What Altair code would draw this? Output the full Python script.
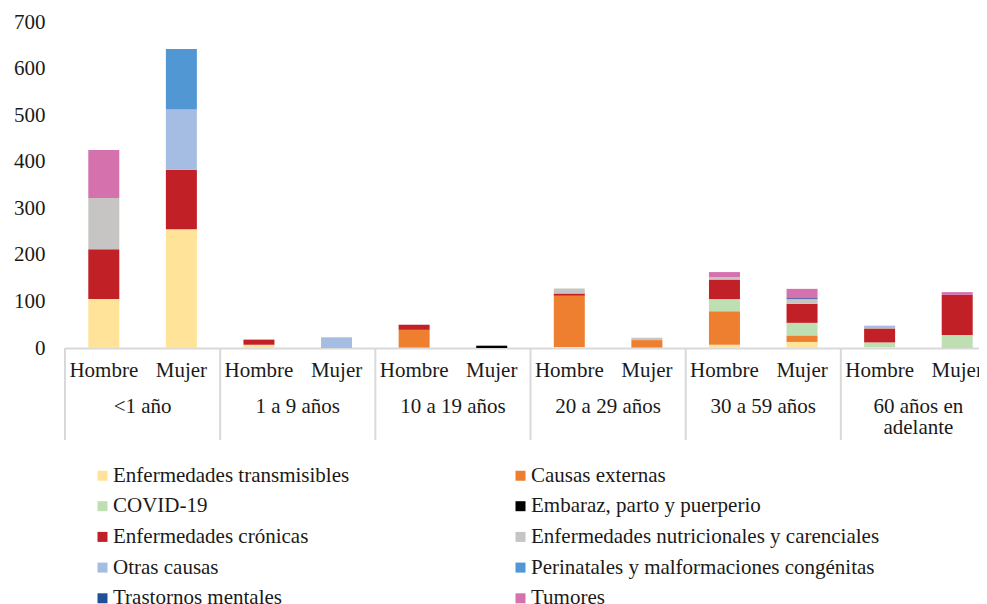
import altair as alt
import pandas as pd

groups = ["<1 año", "1 a 9 años", "10 a 19 años", "20 a 29 años", "30 a 59 años", "60 años en adelante"]
group_labels = ["<1 año", "1 a 9 años", "10 a 19 años", "20 a 29 años", "30 a 59 años", "60 años en\nadelante"]
sexes = ["Hombre", "Mujer"]

categories = [
    "Enfermedades transmisibles",
    "Causas externas",
    "COVID-19",
    "Embaraz, parto y puerperio",
    "Enfermedades crónicas",
    "Enfermedades nutricionales y carenciales",
    "Otras causas",
    "Perinatales y malformaciones congénitas",
    "Trastornos mentales",
    "Tumores",
]
colors = ["#FFE398", "#EE7F31", "#BDDFB2", "#000000", "#C02026",
          "#C6C5C4", "#A6BDE3", "#5097D3", "#1F5097", "#D571AD"]

# order of bars: <1 H, <1 M, 1-9 H, 1-9 M, 10-19 H, 10-19 M, 20-29 H, 20-29 M, 30-59 H, 30-59 M, 60+ H, 60+ M
transmisibles = [105, 255, 7, 0, 1, 0, 2, 1, 7, 13, 2, 0]
externas      = [0, 0, 0, 0, 38, 0, 110, 16, 72, 14, 0, 0]
covid         = [0, 0, 0, 0, 0, 0, 0, 0, 26, 27, 10, 28]
embarazo      = [0, 0, 0, 0, 0, 5, 0, 0, 0, 0, 0, 0]
cronicas      = [107, 128, 11, 0, 11, 0, 5, 0, 42, 41, 30, 86]
nutricionales = [110, 0, 0, 0, 0, 0, 11, 5, 5, 10, 1, 0]
otras         = [0, 129, 0, 23, 0, 0, 0, 0, 0, 0, 5, 0]
perinatales   = [0, 130, 0, 0, 0, 0, 0, 0, 0, 0, 0, 0]
trastornos    = [0, 0, 0, 0, 0, 0, 0, 0, 0, 2, 0, 0]
tumores       = [103, 0, 0, 0, 0, 0, 0, 0, 11, 20, 0, 6]
series = [transmisibles, externas, covid, embarazo, cronicas,
          nutricionales, otras, perinatales, trastornos, tumores]

yticks = [0, 100, 200, 300, 400, 500, 600, 700]

keys = [f"{g}|{s}" for g in groups for s in sexes]
rows = []
for i, (cat, vals) in enumerate(zip(categories, series)):
    for k, v in zip(keys, vals):
        if v > 0:
            rows.append({"key": k, "cat": cat, "idx": i, "value": v})
df = pd.DataFrame(rows)

df_groups = pd.DataFrame({"key": [f"{g}|Hombre" for g in groups], "label": group_labels})

FONT = "Liberation Serif"
FS = 21
TXT = "#1a1a1a"
GRID = "#D9D9D9"

# the last group runs past the right edge of the picture, as in the reference
xscale = alt.Scale(domain=keys, paddingInner=0, paddingOuter=0, range=[0, 931])

bars = alt.Chart(df).mark_bar(width=31).encode(
    x=alt.X("key:N", scale=xscale,
            axis=alt.Axis(title=None, labelExpr="split(datum.label, '|')[1]", labelAngle=0,
                          ticks=False, tickSize=0, domainColor=GRID, domainWidth=2,
                          labelFontSize=FS, labelFont=FONT, labelColor=TXT, labelPadding=11,
                          labelOverlap=False)),
    y=alt.Y("value:Q", stack="zero", scale=alt.Scale(domain=[0, 700], nice=False),
            axis=alt.Axis(title=None, values=yticks, grid=False, domain=False, ticks=False, tickSize=0,
                          labelFontSize=FS, labelFont=FONT, labelColor=TXT, labelPadding=20)),
    color=alt.Color("cat:N", scale=alt.Scale(domain=categories, range=colors),
                    legend=alt.Legend(title=None, orient="none", legendX=27, legendY=443,
                                      direction="horizontal",
                                      columns=2, columnPadding=160, rowPadding=8.7,
                                      symbolType="square", symbolSize=100, symbolStrokeWidth=0,
                                      labelFontSize=FS, labelFont=FONT, labelColor=TXT,
                                      labelOffset=0, labelLimit=0, padding=0,
                                      labelExpr="datum.label == 'Enfermedades transmisibles' ? '\u00a0' + datum.label : datum.label")),
    order=alt.Order("idx:Q", sort="ascending"),
)

seps = alt.Chart(df_groups).mark_rule(color=GRID, strokeWidth=2).encode(
    x=alt.X("key:N", scale=xscale, bandPosition=0),
    y=alt.value(326), y2=alt.value(418),
)

glabels = alt.Chart(df_groups).mark_text(
    font=FONT, fontSize=FS, color=TXT, baseline="top", align="center", dx=38.8, lineBreak="\n", lineHeight=21
).encode(
    x=alt.X("key:N", scale=xscale),
    y=alt.value(374),
    text="label:N",
)

chart = alt.layer(bars, seps, glabels).properties(
    width=914, height=326,
    autosize=alt.AutoSizeParams(type="none"),
    padding={"left": 57, "top": 14, "right": 0, "bottom": 256},
).configure(font=FONT).configure_view(stroke=None)

chart.save("out.html", embed_options={"renderer": "svg", "actions": False})
